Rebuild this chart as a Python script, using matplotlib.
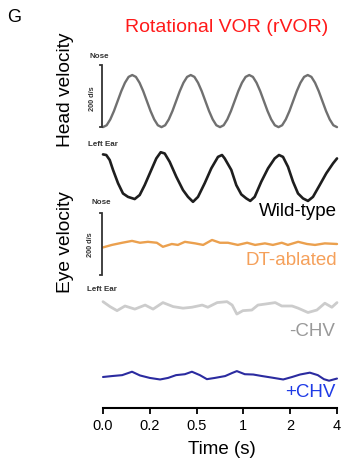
import numpy as np
import matplotlib
matplotlib.use("Agg")
import matplotlib.pyplot as plt

plt.rcParams['font.family'] = ['Liberation Sans', 'DejaVu Sans']

# x positions are in tick units (0 -> "0.0", 5 -> "4"), values in deg/s
tick_labels = ["0.0", "0.2", "0.5", "1", "2", "4"]

head_cycle = [-84, -78, -59, -32, 0, 32, 59, 78, 84, 78, 59, 32, 0, -32, -59, -78]
head_vals = head_cycle * 4 + [-84]
head_t = np.linspace(0, 5, len(head_vals))

wt_t = [0.0, 0.07, 0.143, 0.214, 0.321, 0.427, 0.534, 0.677, 0.784, 0.891, 1.032,
        1.139, 1.233, 1.318, 1.425, 1.566, 1.709, 1.816, 1.923, 2.03, 2.173, 2.314,
        2.457, 2.543, 2.6, 2.741, 2.848, 2.955, 3.062, 3.147, 3.241, 3.382, 3.526,
        3.669, 3.761, 3.846, 3.953, 4.06, 4.167, 4.274, 4.38, 4.487, 4.63, 4.771,
        4.915, 5.0]
wt_vals = [73, 71, 55, 23, -20, -53, -64, -71, -58, -26, 23,
           60, 80, 76, 49, 1, -42, -64, -80, -64, -20, 28,
           65, 71, 60, 23, -26, -56, -69, -77, -64, -15, 28,
           60, 71, 65, 33, -15, -53, -69, -77, -64, -26, 12,
           44, 60]

dt_t = [0, 0.19, 0.41, 0.62, 0.79, 0.96, 1.15, 1.28, 1.47, 1.60, 1.75, 1.97, 2.14, 2.33,
        2.50, 2.67, 2.88, 3.08, 3.25, 3.46, 3.63, 3.82, 3.95, 4.17, 4.36, 4.53, 4.74, 5.0]
dt_vals = [-11, -3, 4, 10, 4, 7, 4, -9, 0, -3, 7, 2, -3, 13,
           4, 4, -3, 4, -3, 2, -3, 4, -3, 7, 0, -3, 2, 0]

nchv_t = [0, 0.15, 0.30, 0.47, 0.68, 0.90, 1.07, 1.28, 1.50, 1.71, 1.90, 2.12, 2.24, 2.44, 2.65,
          2.76, 2.86, 2.99, 3.18, 3.31, 3.50, 3.68, 3.82, 4.04, 4.17, 4.38, 4.57, 4.74, 4.89, 5.0]
nchv_vals = [17, 1, -12, 3, -7, 6, -7, 14, 1, -4, -1, 6, -1, 14, 17,
             6, -23, -12, -10, 6, 10, 14, 3, 3, -4, -18, -10, 12, -1, 14]

pchv_t = [0, 0.19, 0.41, 0.62, 0.79, 1.00, 1.22, 1.39, 1.56, 1.75, 1.90, 2.07, 2.22, 2.39, 2.61,
          2.76, 2.86, 3.03, 3.21, 3.40, 3.61, 3.85, 4.04, 4.21, 4.42, 4.59, 4.72, 4.83, 5.0]
pchv_vals = [-3, 0, 3, 14, 2, -6, -11, -6, 3, 6, 14, 3, -10, -6, 0,
             10, 16, 6, 5, 0, -5, -11, -3, 5, 11, 3, -10, -15, -8]

# vertical stacking offsets (deg/s)
off_head, off_wt, off_dt, off_nchv, off_pchv = 990, 745, 529, 326, 103

W, H = 343, 470
fig = plt.figure(figsize=(W / 100, H / 100), dpi=100)
ax = fig.add_axes([103 / W, 1 - 408 / H, 234 / W, 368 / H])
ax.set_xlim(0, 5)
ax.set_ylim(0, 1187)

line_kw = dict(clip_on=False, solid_joinstyle="round", solid_capstyle="round")
ax.plot(head_t, np.array(head_vals) + off_head, color="#707070", lw=1.7, **line_kw)
ax.plot(wt_t, np.array(wt_vals) + off_wt, color="#1e1e1e", lw=1.9, **line_kw)
ax.plot(dt_t, np.array(dt_vals) + off_dt, color="#EBA04E", lw=1.7, **line_kw)
ax.plot(nchv_t, np.array(nchv_vals) + off_nchv, color="#cccccc", lw=2.0, **line_kw)
ax.plot(pchv_t, np.array(pchv_vals) + off_pchv, color="#2b2ba0", lw=1.5, **line_kw)


# scale bars: 200 d/s
def scale_bar(y0):
    xs = [-0.07, -0.02, -0.02, -0.07]
    ys = [y0, y0, y0 + 200, y0 + 200]
    ax.plot(xs, ys, color="#333333", lw=1.3, clip_on=False, solid_joinstyle="miter")


scale_bar(off_head - 84)
scale_bar(off_dt - 100)

ax.set_yticks([])
for s in ["left", "right", "top"]:
    ax.spines[s].set_visible(False)
ax.spines["bottom"].set_linewidth(1.5)
ax.set_xticks(range(6))
ax.set_xticklabels(tick_labels, fontsize=10.5)
ax.tick_params(axis="x", direction="out", length=4, width=1.3, pad=4)


def ftext(x, y, s, **kw):
    fig.text(x / W, 1 - y / H, s, **kw)


ftext(14, 18, "G", fontsize=13, ha="center", va="center")
ftext(227, 28, "Rotational VOR (rVOR)", fontsize=14, color="#ff1a1a", ha="center", va="center")
ftext(65, 90, "Head velocity", fontsize=13.8, rotation=90, ha="center", va="center")
ftext(65, 242, "Eye velocity", fontsize=13.8, rotation=90, ha="center", va="center")
ftext(222, 450, "Time (s)", fontsize=13.5, ha="center", va="center")

small = dict(fontsize=5.8, fontweight="bold", color="#333333", va="center")
ftext(89, 57, "Nose", ha="left", **small)
ftext(88, 144.5, "Left Ear", ha="left", **small)
ftext(92.5, 99, "200 d/s", ha="center", rotation=90, **dict(small, fontsize=5.3))
ftext(91, 202, "Nose", ha="left", **small)
ftext(87, 289.5, "Left Ear", ha="left", **small)
ftext(91, 245, "200 d/s", ha="center", rotation=90, **dict(small, fontsize=5.3))

lab = dict(fontsize=13.5, ha="right", va="baseline")
ftext(337, 216, "Wild-type", color="black", **lab)
ftext(337, 265, "DT-ablated", color="#F5A05A", **lab)
ftext(335, 336, "-CHV", color="#999999", **lab)
ftext(335, 397, "+CHV", color="#1f3be6", **lab)

fig.savefig("out.png", dpi=100)
